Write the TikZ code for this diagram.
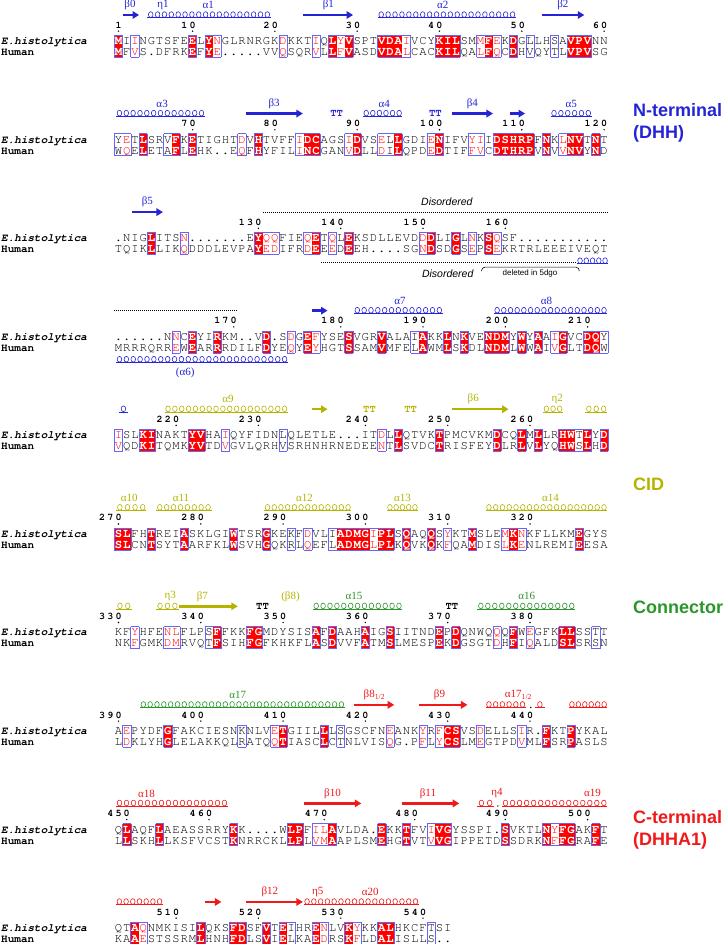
\documentclass[tikz,border=0pt]{standalone}
\usepackage{fontspec}
\setmainfont{Liberation Serif}
\setsansfont{Liberation Sans}
\newfontfamily\seqfont{texgyrecursor}[Extension=.otf,UprightFont=*-regular,BoldFont=*-bold,ItalicFont=*-italic,BoldItalicFont=*-bolditalic]
\usetikzlibrary{arrows.meta,positioning}
\definecolor{nterm}{HTML}{2424D6}
\definecolor{cid}{HTML}{B4B400}
\definecolor{conn}{HTML}{2A962A}
\definecolor{cterm}{HTML}{F01818}
\definecolor{idred}{HTML}{FF0000}
\definecolor{frameblue}{HTML}{6464FF}

% column centre and block row (px)
\newcommand{\cx}[1]{(118.5+((#1)-1)*8.23)}
\newcommand{\ey}[1]{(41+((#1)-1)*98.55)}
\newcommand{\gy}[1]{\ey{#1}-26}
\newcommand{\ly}[1]{\ey{#1}-36}

\makeatletter
\newcount\sq@n \newcount\sq@len \newcount\nm@d \newcount\nm@c \newcount\ss@k
% classes: R identical, r similar, b framed, . none
\def\setclasses#1{\sq@n=0 \sq@cls#1\relax
  \sq@len=\sq@n
  \expandafter\def\csname cl0\endcsname{.}%
  \advance\sq@n by 1
  \expandafter\def\csname cl\the\sq@n\endcsname{.}}
\def\sq@cls#1{\ifx#1\relax\else
  \advance\sq@n by 1
  \expandafter\def\csname cl\the\sq@n\endcsname{#1}%
  \expandafter\sq@cls\fi}
\def\drawbg#1{\edef\sq@last{\the\sq@len}%
  \foreach \n in {1,...,\sq@last}{%
    \edef\sq@cc{\csname cl\n\endcsname}%
    \if R\sq@cc\fill[idred] ({\cx{\n}-4.12},{-\ey{#1}+5.8}) rectangle ({\cx{\n}+4.12},{-\ey{#1}-16.2});\fi}
  \foreach \n in {1,...,\sq@last}{%
    \edef\sq@cc{\csname cl\n\endcsname}%
    \edef\sq@pc{\csname cl\the\numexpr\n-1\relax\endcsname}%
    \edef\sq@nc{\csname cl\the\numexpr\n+1\relax\endcsname}%
    \if .\sq@cc\else
      \draw[frm] ({\cx{\n}-4.12},{-\ey{#1}+5.8}) -- ({\cx{\n}+4.12},{-\ey{#1}+5.8});
      \draw[frm] ({\cx{\n}-4.12},{-\ey{#1}-16.2}) -- ({\cx{\n}+4.12},{-\ey{#1}-16.2});
      \if .\sq@pc\draw[frm] ({\cx{\n}-4.12},{-\ey{#1}+5.8}) -- ({\cx{\n}-4.12},{-\ey{#1}-16.2});\fi
      \if .\sq@nc\draw[frm] ({\cx{\n}+4.12},{-\ey{#1}+5.8}) -- ({\cx{\n}+4.12},{-\ey{#1}-16.2});\fi
    \fi}}
\def\putrow#1#2#3#4{\sq@n=0 \def\sq@blk{#1}\def\sq@pre{#2}\def\sq@off{#3}\sq@row#4\relax}
\def\sq@row#1{\ifx#1\relax\else
  \advance\sq@n by 1
  \edef\sq@cc{\csname cl\the\sq@n\endcsname}%
  \edef\sq@x{\the\sq@n}%
  \if R\sq@cc\def\sq@col{white}\def\sq@fnt{\bfseries}\else
    \if r\sq@cc\def\sq@col{idred}\def\sq@fnt{}\else\def\sq@col{black}\def\sq@fnt{}\fi\fi
  \node[res,text=\sq@col] (\sq@pre\sq@blk-\sq@x) at ({\cx{\sq@x}},{-\ey{\sq@blk}-\sq@off}) {\sq@fnt #1};
  \expandafter\sq@row\fi}
\def\pnum#1#2#3{\edef\nm@str{#3}\nm@d=0
  \expandafter\nm@count\nm@str\relax
  \nm@c=#2\relax \advance\nm@c by -\nm@d \def\nm@blk{#1}%
  \expandafter\nm@put\nm@str\relax
  \fill ({\cx{#2}},{-\ey{#1}+9.8}) circle (0.8pt);}
\def\nm@count#1{\ifx#1\relax\else\advance\nm@d by 1 \expandafter\nm@count\fi}
\def\nm@put#1{\ifx#1\relax\else
  \advance\nm@c by 1
  \node[numdig] (num\nm@blk-\the\nm@c) at ({\cx{\the\nm@c}},{-\ey{\nm@blk}+12.8}) {#1};
  \expandafter\nm@put\fi}
\newcommand{\seqblock}[4]{\setclasses{#4}\drawbg{#1}%
  \putrow{#1}{E}{3.6}{#2}\putrow{#1}{H}{14.6}{#3}%
  \node[seqname,font=\seqfont\bfseries\itshape\fontsize{11}{12}\selectfont] (ehname#1) at (1,{-\ey{#1}-3.6}) {E.histolytica};
  \node[seqname] (huname#1) at (1,{-\ey{#1}-14.6}) {Human};}
% helix: loops standing on a thin base line
\newcommand{\helix}[4]{%
  \pgfmathsetmacro\hxa{\cx{#2}}\pgfmathsetmacro\hxb{\cx{#3}}\pgfmathsetmacro\hy{-(#1)}%
  \pgfmathtruncatemacro\hn{max(1,round((\hxb-\hxa)/6.8))}%
  \pgfmathsetmacro\hsp{(\hxb-\hxa)/\hn}%
  \draw[helixbase,draw=#4] ({\hxa},{\hy-2.6}) -- ({\hxb},{\hy-2.6});
  \foreach \i in {1,...,\hn}{\draw[helixloop,draw=#4] ({\hxa+(\i-0.5)*\hsp},{\hy+0.4}) ellipse (2.3pt and 2.9pt);}}
\newcommand{\strand}[4]{\draw[strandsty,draw=#4] ({\cx{#2}},{-(#1)}) -- ({\cx{#3}},{-(#1)});}
\newcommand{\sselab}[4]{\global\advance\ss@k by 1
  \node[sslab,text=#3] (ss\the\ss@k) at ({\cx{#2}},{-(#1)}) {#4};}
\newcommand{\tturn}[3]{\global\advance\ss@k by 1
  \node[ttmark,text=#3] (tt\the\ss@k) at ({\cx{#2}},{-(#1)}) {TT};}
\makeatother

\begin{document}
\begin{tikzpicture}[x=1pt,y=1pt,
  res/.style={inner sep=0pt,anchor=base,font=\seqfont\fontsize{12.2}{13}\selectfont},
  seqname/.style={inner sep=0pt,anchor=base west,font=\seqfont\bfseries\fontsize{11}{12}\selectfont},
  numdig/.style={inner sep=0pt,anchor=base,font=\seqfont\bfseries\fontsize{10}{12}\selectfont},
  frm/.style={draw=frameblue,line width=0.7pt},
  helixbase/.style={line width=0.45pt},
  helixloop/.style={line width=0.6pt},
  strandsty/.style={line width=2.4pt,-{Triangle[length=6.5pt,width=7.5pt]}},
  sslab/.style={inner sep=0pt,font=\fontsize{11}{12}\selectfont},
  ttmark/.style={inner sep=0pt,font=\seqfont\bfseries\fontsize{10.5}{12}\selectfont},
  dotln/.style={line width=0.8pt,dash pattern=on 0.9pt off 1.1pt},
  disl/.style={inner sep=0pt,font=\sffamily\itshape\fontsize{10.5}{12}\selectfont},
  domlab/.style={anchor=west,align=left,inner sep=0pt,font=\sffamily\bfseries\fontsize{18}{22}\selectfont}]
\useasboundingbox (0,0) rectangle (726,-944);

% block 1
\seqblock{1}{MIINGTSFEELYNGLRNRGKDKKTIQLYVSPTVDAIVCYKILSMMFEKDGLLHSAVPVNN}
  {MFVS.DFRKEFYE.....VVQSQRVLLFVASDVDALCACKILQALFQCDHVQYTLVPVSG}
  {R.r......R.Rr.......r...r.RrR...RRRr...RRR..rRr.R.b..b.RRR..}
\foreach \c/\v in {1/1,10/10,20/20,30/30,40/40,50/50,60/60}{\pnum{1}{\c}{\v}}
\strand{\gy{1}}{1.5}{3.5}{nterm} \sselab{\ly{1}}{2.4}{nterm}{β0}
\helix{\gy{1}}{4.5}{19.5}{nterm} \sselab{\ly{1}}{6.4}{nterm}{η1} \sselab{\ly{1}}{11.9}{nterm}{α1}
\strand{\gy{1}}{23.4}{29.5}{nterm} \sselab{\ly{1}}{26.5}{nterm}{β1}
\helix{\gy{1}}{32.5}{49.3}{nterm} \sselab{\ly{1}}{40.4}{nterm}{α2}
\strand{\gy{1}}{52.5}{57.6}{nterm} \sselab{\ly{1}}{55}{nterm}{β2}

% block 2
\seqblock{2}{YETLSRVFKETIGHTDVHTVFFIDCAGSIDVSELLGDIENIFVYIIDSHRPFNKLNVTNT}
  {WQELETAFLEHK..EQFHYFILINCGANVDLLDILQPDEDTIFFVCDTHRPVNVVNVYND}
  {br.R..bR.R.....r.R....rRR...rR..rbR...rR...rr.RRRRR.R.rRR.R.}
\foreach \c/\v in {10/70,20/80,30/90,40/100,50/110,60/120}{\pnum{2}{\c}{\v}}
\helix{\gy{2}}{0.7}{11.5}{nterm} \sselab{\ly{2}}{6.3}{nterm}{α3}
\strand{\gy{2}}{16.5}{23.4}{nterm} \sselab{\ly{2}}{19.9}{nterm}{β3}
\tturn{\gy{2}}{27.5}{nterm}
\helix{\gy{2}}{30.7}{35.5}{nterm} \sselab{\ly{2}}{33.3}{nterm}{α4}
\tturn{\gy{2}}{39.5}{nterm}
\strand{\gy{2}}{41.5}{46.5}{nterm} \sselab{\ly{2}}{44}{nterm}{β4}
\strand{\gy{2}}{48.6}{50.4}{nterm}
\helix{\gy{2}}{53.5}{58.5}{nterm} \sselab{\ly{2}}{56}{nterm}{α5}

% block 3
\seqblock{3}{.NIGLITSN.......EYQQFIEQETQLEKSDLLEVDDDLIGLNKSQSF...........}
  {TQIKLLIKQDDDLEVPAYEDIFRDEEEDEEH....SGNDSDGSEPSEKRTRLEEEIVEQT}
  {....R...r........Rrr...rR.r.R........rR..R.r.Rr.............}
\foreach \c/\v in {18/130,28/140,38/150,48/160}{\pnum{3}{\c}{\v}}
\strand{\gy{3}}{2.6}{6.4}{nterm} \sselab{\ly{3}}{4.5}{nterm}{β5}
\draw[dotln] ({\cx{18.5}},{-(\gy{3})}) -- ({\cx{60.5}},{-(\gy{3})});
\node[disl] (dis1) at ({\cx{40.9}},{-(\ly{3})}) {Disordered};
\draw[dotln] ({\cx{25.6}},{-\ey{3}-24.5}) -- ({\cx{56.5}},{-\ey{3}-24.5});
\helix{\ey{3}+23}{56.7}{60.5}{nterm}
\node[disl] (dis2) at ({\cx{41}},{-\ey{3}-36}) {Disordered};
\coordinate (delA) at ({\cx{45.1}},{-\ey{3}-33});
\coordinate (delB) at ({\cx{45.1}+3.5},{-\ey{3}-29});
\coordinate (delC) at ({\cx{57}-3.5},{-\ey{3}-29});
\coordinate (delD) at ({\cx{57}},{-\ey{3}-33});
\draw[line width=0.6pt] (delA) to[out=90,in=180] (delB) -- (delC) to[out=0,in=90] (delD);
\node[inner sep=0pt,font=\sffamily\fontsize{8}{9}\selectfont] (del) at ({\cx{51}},{-\ey{3}-35}) {deleted in 5dgo};

% block 4
\seqblock{4}{......NNCEYIRKM..VD.SDGEFYSESVGRVALAIAKKLNKVENDMYWYAAIGVCDQY}
  {MRRRQRREWEARRRDILFDYEQYEYHGTSSAMVMFELAWMLSKDLNDMLWWAIVGLTDQW}
  {.......r.R..R.....R..r.Rr...R...R...bR..R.R..RRR.R.R.rR..RRb}
\foreach \c/\v in {15/170,28/180,38/190,48/200,58/210}{\pnum{4}{\c}{\v}}
\draw[dotln] ({\cx{0.5}},{-(\gy{4})}) -- ({\cx{15.5}},{-(\gy{4})});
\strand{\gy{4}}{24.5}{26.4}{nterm}
\helix{\gy{4}}{29.6}{40.4}{nterm} \sselab{\ly{4}}{35.2}{nterm}{α7}
\helix{\gy{4}}{46.6}{60.4}{nterm} \sselab{\ly{4}}{53}{nterm}{α8}
\helix{\ey{4}+23}{0.7}{21.6}{nterm} \sselab{\ey{4}+36}{9.1}{nterm}{(α6)}

% block 5
\seqblock{5}{ISLKINAKTYVHAIQYFIDNLQLETLE...ITDLLQTVKTPMCVKMDCQLMLLRHWTLYD}
  {VQDKITQMKYVTDVGVLQRHVSRHNHRNEDEENTLSVDCTRISFEYDLRLVLYQHWSLHD}
  {r..RR....RR..r......b...........r.R....R......R..R.R..RRbR.R}
\foreach \c/\v in {8/220,18/230,31/240,41/250,51/260}{\pnum{5}{\c}{\v}}
\helix{\gy{5}}{1.0}{2.2}{nterm}
\helix{\gy{5}}{6.6}{21.6}{cid} \sselab{\ly{5}}{14.3}{cid}{α9}
\strand{\gy{5}}{24.5}{26.4}{cid}
\tturn{\gy{5}}{31.5}{cid} \tturn{\gy{5}}{36.5}{cid}
\strand{\gy{5}}{41.5}{48.4}{cid} \sselab{\ly{5}}{44.1}{cid}{β6}
\helix{\gy{5}}{52.6}{55}{cid} \sselab{\ly{5}}{54.3}{cid}{η2}
\helix{\gy{5}}{57.7}{60.4}{cid}

% block 6
\seqblock{6}{SLFHTREIASKLGIWTSRGKEKFDVLIADMGIPLSQAQQSYKTMSLEMKNKFLLKMEGYS}
  {SLCNTSYTAARFKLWSVHGQKRLQEFLADMGLPLKQVKQKFQAMDISLKENLREMIEESA}
  {RR..R...R.....R...R..b.r..bRRRRrRR.R..R.r..R...rRr......R...}
\foreach \c/\v in {1/270,11/280,21/290,31/300,41/310,51/320}{\pnum{6}{\c}{\v}}
\helix{\gy{6}}{0.7}{4.4}{cid} \sselab{\ly{6}}{2.3}{cid}{α10}
\helix{\gy{6}}{5.6}{12.3}{cid} \sselab{\ly{6}}{8.6}{cid}{α11}
\helix{\gy{6}}{18.7}{29.3}{cid} \sselab{\ly{6}}{23.6}{cid}{α12}
\helix{\gy{6}}{33.6}{37.4}{cid} \sselab{\ly{6}}{35.5}{cid}{α13}
\helix{\gy{6}}{45.6}{60.4}{cid} \sselab{\ly{6}}{53.5}{cid}{α14}

% block 7
\seqblock{7}{KFYHFENLFLPSFFKKFGMDYSISAFDAAHAIGSIITNDEPDQNWQQQFWEGFKLLSSTT}
  {NKFGMKDMRVQTFSIHFGFKHKFLASDVVFATMSLMESPEKDGSGTDHFIQALDSLSRSN}
  {..r...rr...bR...RR......R.R...R..R.....R.R....r.R.r...RR..b.}
\foreach \c/\v in {1/330,11/340,21/350,31/360,41/370,51/380}{\pnum{7}{\c}{\v}}
\helix{\gy{7}}{0.7}{2.6}{cid}
\helix{\gy{7}}{5.6}{8.3}{cid} \sselab{\ly{7}}{7.3}{cid}{η3}
\strand{\gy{7}}{8.3}{15.5}{cid} \sselab{\ly{7}}{11.2}{cid}{β7}
\tturn{\gy{7}}{18.5}{black}
\sselab{\ly{7}}{21.9}{cid}{(β8)}
\helix{\gy{7}}{24.6}{35.5}{conn} \sselab{\ly{7}}{29.6}{conn}{α15}
\tturn{\gy{7}}{41.5}{black}
\helix{\gy{7}}{44.6}{56.5}{conn} \sselab{\ly{7}}{50.6}{conn}{α16}

% block 8
\seqblock{8}{AEPYDFGFAKCIESNKNLVETGIILLLSGSCFNEANKYRFCSVSDELLSIR.FKTPYKAL}
  {LDKLYHGLELAKKQLRATQQTIASCLCTNLVISQG.PFLYCSLMEGTPDVMLFSRPASLS}
  {.r....R........b...rR....R.b.....r...r.rRR..r....r..R..R....}
\foreach \c/\v in {1/390,11/400,21/410,31/420,41/430,51/440}{\pnum{8}{\c}{\v}}
\helix{\gy{8}}{3.6}{28.5}{conn} \sselab{\ly{8}}{15.5}{conn}{α17}
\strand{\gy{8}}{29.6}{34.5}{cterm} \sselab{\ly{8}}{32.1}{cterm}{β8\textsubscript{1/2}}
\strand{\gy{8}}{37.5}{43.4}{cterm} \sselab{\ly{8}}{40}{cterm}{β9}
\helix{\gy{8}}{45.6}{50.5}{cterm} \sselab{\ly{8}}{49.6}{cterm}{α17\textsubscript{1/2}}
\fill ({\cx{51.1}},{-(\gy{8})-2.6}) circle (0.8pt);
\helix{\gy{8}}{51.6}{52.8}{cterm}
\helix{\gy{8}}{55.7}{60.4}{cterm}

% block 9
\seqblock{9}{QLAQFLAEASSRRYKK....WLPFILAVLDA.EKKTFVIVGYSSPI.SVKTLNYFGAKFT}
  {LLSKHLLKSFVCSTKNRRCKLLPLVMAAPLSMEHGTVTVVGIPPETDSSDRKNFFGRAFE}
  {.R...R........R......RR.rrR.....R..R..rRR......R....RrRR..R.}
\foreach \c/\v in {2/450,12/460,26/470,37/480,48/490,58/500}{\pnum{9}{\c}{\v}}
\helix{\gy{9}}{0.7}{14.3}{cterm} \sselab{\ly{9}}{4.4}{cterm}{α18}
\strand{\gy{9}}{23.5}{30.5}{cterm} \sselab{\ly{9}}{27}{cterm}{β10}
\strand{\gy{9}}{35.5}{42.4}{cterm} \sselab{\ly{9}}{38.6}{cterm}{β11}
\helix{\gy{9}}{44.6}{46.6}{cterm} \sselab{\ly{9}}{47}{cterm}{η4}
\fill ({\cx{47.1}},{-(\gy{9})-2.6}) circle (0.8pt);
\helix{\gy{9}}{47.6}{60.4}{cterm} \sselab{\ly{9}}{58.6}{cterm}{α19}

% block 10
\seqblock{10}{QTAQNMKISILQKSFDSFVTEIHRENLVKYKKALHKCFTSI}
  {KAAESTSSRMLHNHFDLSVIELKAEDRSKFLDALISLLS..}
  {..Rr......R...RR..R.Rb..Rr..Rr..RR....b..}
\foreach \c/\v in {8/510,18/520,28/530,38/540}{\pnum{10}{\c}{\v}}
\helix{\gy{10}}{0.7}{6.4}{cterm}
\strand{\gy{10}}{11.5}{13.5}{cterm}
\strand{\gy{10}}{16.5}{23.4}{cterm} \sselab{\ly{10}}{19.4}{cterm}{β12}
\helix{\gy{10}}{23.5}{37.5}{cterm} \sselab{\ly{10}}{25.2}{cterm}{η5} \sselab{\ly{10}}{31.6}{cterm}{α20}

% domain labels
\node[domlab,text=nterm] (dhh) at (633,-123) {N-terminal\\(DHH)};
\node[domlab,text=cid] (cidlab) at (633,-484) {CID};
\node[domlab,text=conn] (connlab) at (633,-607) {Connector};
\node[domlab,text=cterm] (dhha) at (633,-830) {C-terminal\\(DHHA1)};
\end{tikzpicture}
\end{document}
